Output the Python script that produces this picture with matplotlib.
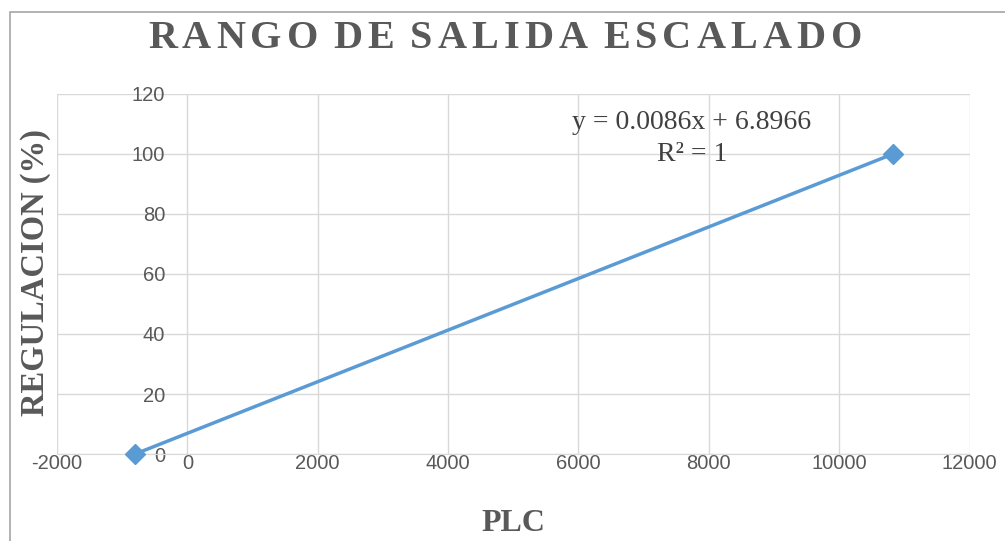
import matplotlib.pyplot as plt
from matplotlib.patches import Rectangle

plt.rcParams["axes.unicode_minus"] = False

plc = [-802, 10826]
regulacion = [0, 100]
x_ticks = [-2000, 0, 2000, 4000, 6000, 8000, 10000, 12000]
y_ticks = [0, 20, 40, 60, 80, 100, 120]

title = "RANGO DE SALIDA ESCALADO"

gray = "#595959"
blue = "#5B9BD5"

fig = plt.figure(figsize=(10.05, 5.41), dpi=100)
ax = fig.add_axes([0.0567, 0.1608, 0.908, 0.6655])

# outer chart frame
fig.patches.append(Rectangle((0.0095, -0.1), 1.2, 1.078, transform=fig.transFigure,
                             fill=False, edgecolor="#A6A6A6", linewidth=1.2))

ax.plot(plc, regulacion, color=blue, linewidth=2.5, marker="D", markersize=10.5,
        zorder=3, clip_on=False)

ax.set_xlim(-2000, 12000)
ax.set_ylim(0, 120)
ax.set_xticks(x_ticks)
ax.set_yticks(y_ticks)
ax.grid(True, color="#D9D9D9", linewidth=1)
ax.set_axisbelow(True)

for side in ["top", "right", "left"]:
    ax.spines[side].set_visible(False)
ax.spines["bottom"].set_color("#D9D9D9")
ax.spines["left"].set_position(("data", 0))

ax.tick_params(axis="both", length=0, labelcolor=gray, labelsize=14.5)
ax.tick_params(axis="x", pad=0)
ax.tick_params(axis="y", pad=16)
for lab in ax.get_xticklabels() + ax.get_yticklabels():
    lab.set_family("Liberation Sans")

# spaced-out title, laid out one letter at a time
title_style = dict(fontsize=29, fontweight="bold", family="Liberation Serif",
                   color=gray, va="center", ha="left")
renderer = fig.canvas.get_renderer()
fig_w = fig.bbox.width


def text_width(s):
    t = fig.text(0, 0, s, **title_style)
    w = t.get_window_extent(renderer).width
    t.remove()
    return w


space_w = text_width("A A") - text_width("AA")
widths = [space_w if ch == " " else text_width(ch) for ch in title]
target_w = 714
track = (target_w - sum(widths)) / (len(title) - 1)
x_px = 505 - target_w / 2
for ch, w in zip(title, widths):
    if ch != " ":
        fig.text(x_px / fig_w, 0.928, ch, **title_style)
    x_px += w + track

fig.text(0.035, 0.496, "REGULACION (%)", rotation=90, ha="center", va="center",
         fontsize=23.5, fontweight="bold", family="Liberation Serif", color=gray)
fig.text(0.511, 0.032, "PLC", ha="center", va="center", fontsize=23,
         fontweight="bold", family="Liberation Serif", color=gray)

# trendline equation
ax.text(7740, 110.5, "y = 0.0086x + 6.8966", ha="center", va="center",
        fontsize=20, family="Liberation Serif", color="#404040")
ax.text(7740, 99.9, "R² = 1", ha="center", va="center",
        fontsize=20, family="Liberation Serif", color="#404040")

fig.savefig("out.png", dpi=100)
